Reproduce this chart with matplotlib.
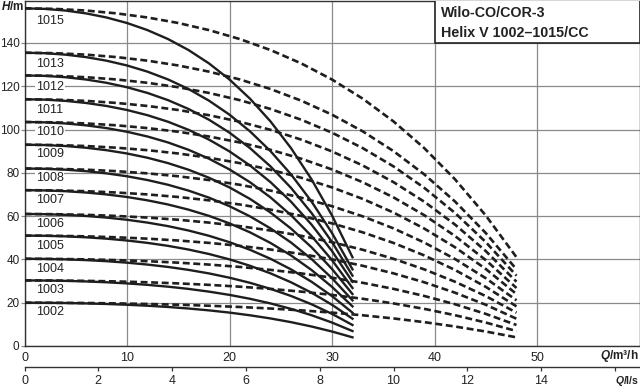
import matplotlib.pyplot as plt
from matplotlib.patches import Rectangle

plt.rcParams['font.family'] = ['Liberation Sans', 'DejaVu Sans']
plt.rcParams['mathtext.fontset'] = 'custom'
plt.rcParams['mathtext.it'] = 'Liberation Sans:italic:bold'
plt.rcParams['lines.scale_dashes'] = False

# pump models and their curves (H in m)
models = ['1002', '1003', '1004', '1005', '1006', '1007', '1008',
          '1009', '1010', '1011', '1012', '1013', '1015']
# solid: m3/h up to 32, dashed: m3/h up to 48 (same heads)
q_solid = [0, 2, 4, 6, 8, 10, 12, 14, 16, 18, 20, 22, 24, 26, 28, 30, 32]
q_dashed = [0, 3, 6, 9, 12, 15, 18, 21, 24, 27, 30, 33, 36, 39, 42, 45, 48]

h_1002 = [20.0, 19.96, 19.86, 19.68, 19.41, 19.06, 18.60, 18.03, 17.32, 16.46,
          15.43, 14.19, 12.73, 11.02, 9.01, 6.69, 4.0]
h_1003 = [30.3, 30.25, 30.09, 29.83, 29.44, 28.92, 28.25, 27.41, 26.38, 25.12,
          23.61, 21.81, 19.67, 17.16, 14.23, 10.83, 6.9]
h_1004 = [40.3, 40.23, 40.03, 39.68, 39.18, 38.50, 37.62, 36.53, 35.17, 33.53,
          31.55, 29.19, 26.40, 23.12, 19.29, 14.84, 9.7]
h_1005 = [51.0, 50.92, 50.66, 50.22, 49.59, 48.74, 47.64, 46.27, 44.57, 42.50,
          40.02, 37.06, 33.56, 29.44, 24.63, 19.05, 12.6]
h_1006 = [61.0, 60.90, 60.60, 60.08, 59.33, 58.32, 57.01, 55.38, 53.36, 50.91,
          47.96, 44.45, 40.29, 35.40, 29.69, 23.06, 15.4]
h_1007 = [72.0, 71.88, 71.52, 70.91, 70.03, 68.84, 67.30, 65.38, 63.00, 60.12,
          56.65, 52.51, 47.61, 41.85, 35.13, 27.32, 18.3]
h_1008 = [82.0, 81.87, 81.46, 80.77, 79.76, 78.41, 76.67, 74.49, 71.80, 68.53,
          64.59, 59.89, 54.34, 47.81, 40.18, 31.33, 21.1]
h_1009 = [93.0, 92.85, 92.39, 91.60, 90.47, 88.94, 86.97, 84.49, 81.44, 77.73,
          73.27, 67.95, 61.66, 54.26, 45.62, 35.59, 24.0]
h_1010 = [103.5, 103.33, 102.82, 101.95, 100.68, 98.98, 96.79, 94.04, 90.65, 86.53,
          81.57, 75.66, 68.66, 60.44, 50.83, 39.68, 26.8]
h_1011 = [114.0, 113.82, 113.25, 112.29, 110.90, 109.04, 106.63, 103.61, 99.88, 95.35,
          89.90, 83.40, 75.71, 66.67, 56.11, 43.86, 29.7]
h_1012 = [125.0, 124.80, 124.18, 123.13, 121.60, 119.55, 116.91, 113.59, 109.51, 104.54,
          98.56, 91.42, 82.98, 73.07, 61.48, 48.03, 32.5]
h_1013 = [135.5, 135.28, 134.61, 133.47, 131.82, 129.61, 126.75, 123.16, 118.73, 113.35,
          106.88, 99.17, 90.03, 79.30, 66.76, 52.21, 35.4]
h_1015 = [156.0, 155.75, 154.98, 153.67, 151.78, 149.23, 145.94, 141.82, 136.74, 130.56,
          123.12, 114.26, 103.76, 91.43, 77.03, 60.31, 41.0]
heads = [h_1002, h_1003, h_1004, h_1005, h_1006, h_1007, h_1008,
         h_1009, h_1010, h_1011, h_1012, h_1013, h_1015]
label_h = [15.6, 25.7, 35.7, 46.3, 56.5, 67.3, 77.5, 88.5, 98.7, 109.0,
           119.6, 130.3, 150.2]

y_ticks = [0, 20, 40, 60, 80, 100, 120, 140]
x_ticks = [0, 10, 20, 30, 40, 50]
ls_ticks = [0, 2, 4, 6, 8, 10, 12, 14, 16]
ls_labels = ['0', '2', '4', '6', '8', '10', '12', '14', '']

fig = plt.figure(figsize=(6.4, 3.87), dpi=100)
left = 24.5 / 640
width = 615 / 640
bottom = 1 - 346 / 387
ax = fig.add_axes([left, bottom, width, 0.998 - bottom])

ax.set_xlim(0, 60)
ax.set_ylim(0, 159.5)
ax.set_xticks(x_ticks)
ax.set_yticks(y_ticks)
ax.grid(True, color='#8a8a8a', lw=0.9, zorder=0)
ax.set_axisbelow(True)
ax.tick_params(axis='x', length=0, pad=4, labelsize=9, colors='#222222')
ax.tick_params(axis='y', length=3, width=0.9, color='#8a8a8a', pad=0.6,
               labelsize=8.5, labelcolor='#222222')
for s in ax.spines.values():
    s.set_color('#333333')
    s.set_linewidth(1.0)

for name, h, lh in zip(models, heads, label_h):
    ax.plot(q_solid, h, color='#1e1e1e', lw=1.7, zorder=3)
    ax.plot(q_dashed, h, color='#1e1e1e', lw=1.9, dashes=(5, 2.6), zorder=3)
    ax.text(1.1, lh, name, fontsize=9, color='#222222', va='center', ha='left',
            zorder=2, bbox=dict(facecolor='white', edgecolor='none', pad=0.5))

ax.add_patch(Rectangle((40, 140), 20, 30, facecolor='white', edgecolor='#222222',
                       lw=1.2, zorder=4))
ax.text(40.6, 153.9, 'Wilo-CO/COR-3', fontsize=10.3, fontweight='bold',
        color='#222222', va='center', ha='left', zorder=5)
ax.text(40.6, 144.8, 'Helix V 1002\u20131015/CC', fontsize=10.3, fontweight='bold',
        color='#222222', va='center', ha='left', zorder=5)

fig.text(1 / 640, 1 - 6 / 387, '$H$/m', fontsize=8.5, fontweight='bold',
         va='center', ha='left', color='#222222')
fig.text(639 / 640, 1 - 356 / 387, '$Q$/m\u00b3/h', fontsize=8.5, fontweight='bold',
         va='center', ha='right', color='#222222')

# second flow axis in l/s
ax2 = fig.add_axes([left, 1 - 367 / 387, width, 0.0001])
ax2.set_xlim(0, 60 / 3.6)
ax2.set_xticks(ls_ticks)
ax2.set_xticklabels(ls_labels)
ax2.set_yticks([])
for k in ['left', 'right', 'top']:
    ax2.spines[k].set_visible(False)
ax2.spines['bottom'].set_color('#333333')
ax2.spines['bottom'].set_linewidth(1.0)
ax2.patch.set_visible(False)
ax2.tick_params(axis='x', direction='out', length=3, width=0.9, color='#333333',
                pad=3, labelsize=9, labelcolor='#222222')
fig.text(639.5 / 640, 1 - 381 / 387, '$Q$/l/s', fontsize=7.5, fontweight='bold',
         va='center', ha='right', color='#222222')

fig.savefig('out.png', dpi=100)
